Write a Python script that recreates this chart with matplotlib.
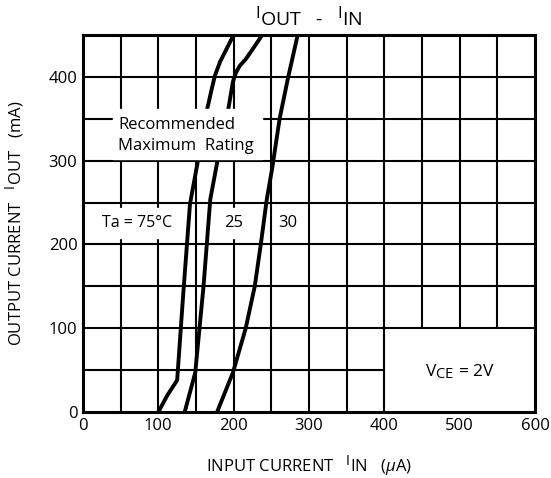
import numpy as np
import matplotlib
matplotlib.use('Agg')
import matplotlib.pyplot as plt
import matplotlib._mathtext as mt

#datasheet style: the leading I is only slightly smaller than the rest
mt.SHRINK_FACTOR = 0.85

plt.rcParams['font.family'] = ['Open Sans', 'DejaVu Sans']
plt.rcParams['mathtext.fontset'] = 'custom'
plt.rcParams['mathtext.rm'] = 'Open Sans'
plt.rcParams['mathtext.it'] = 'Open Sans:italic'

#curve data, input current (uA) vs output current (mA)
ta75_iin = [100, 112, 125, 133, 142, 153, 165, 171, 175, 182, 191, 200]
ta75_iout = [0, 20, 38, 140, 248, 302, 362, 386, 401, 418, 434, 450]
ta25_iin = [135, 149, 160, 169, 179, 193, 199, 203, 208, 216, 226, 238]
ta25_iout = [0, 47, 150, 254, 302, 362, 394, 405, 413, 421, 434, 450]
ta30_iin = [178, 199, 216, 228, 236, 244, 251, 261, 272, 285]
ta30_iout = [0, 47, 100, 150, 200, 254, 290, 350, 398, 450]

x_ticks = [0, 100, 200, 300, 400, 500, 600]
y_ticks = [0, 100, 200, 300, 400]

fig = plt.figure(figsize=(5.51, 4.78), dpi=100)
ax = fig.add_axes([0.1506, 0.138, 0.8204, 0.789])
ax.set_xlim(0, 600)
ax.set_ylim(0, 450)

#grid, leaving the lower right corner empty for the VCE note
for gx in range(50, 600, 50):
    ax.vlines(gx, 100 if gx > 400 else 0, 450, color='black', lw=1.5, zorder=1)
for gy in range(50, 450, 50):
    ax.hlines(gy, 0, 400 if gy < 100 else 600, color='black', lw=1.5, zorder=1)

for xs, ys in [(ta75_iin, ta75_iout), (ta25_iin, ta25_iout), (ta30_iin, ta30_iout)]:
    ax.plot(xs, ys, color='black', lw=2.8, zorder=2, solid_capstyle='butt')

#white patches behind the labels
ax.fill_between([40, 238], 302, 362, color='white', zorder=3)
ax.fill_between([15, 120], 208, 243, color='white', zorder=1.5)
ax.fill_between([180, 225], 208, 243, color='white', zorder=1.5)

ax.text(47, 343, 'Recommended', fontsize=12, va='center', ha='left', zorder=4)
ax.text(47, 318, 'Maximum  Rating', fontsize=12, va='center', ha='left', zorder=4)
ax.text(72, 225, 'Ta = 75°C', fontsize=11.5, va='center', ha='center', zorder=4)
ax.text(200, 225, '25', fontsize=12, va='center', ha='center', zorder=4)
ax.text(272, 225, '30', fontsize=12, va='center', ha='center', zorder=4)
ax.text(500, 48, r'V$_{\mathrm{CE}}$ = 2V', fontsize=12.5, va='center', ha='center', zorder=4)

ax.set_xticks(x_ticks)
ax.set_yticks(y_ticks)
ax.tick_params(length=0, labelsize=12, pad=4)
for s in ax.spines.values():
    s.set_linewidth(2.2)

ax.set_xlabel(r'INPUT CURRENT   ${}^{\mathrm{I}}$IN   ($\mu$A)', fontsize=12, labelpad=14)
ax.set_ylabel(r'OUTPUT CURRENT   ${}^{\mathrm{I}}$OUT   (mA)', fontsize=12, labelpad=16)
ax.set_title(r'${}^{\mathrm{I}}$OUT   -   ${}^{\mathrm{I}}$IN', fontsize=14, pad=7)

fig.savefig('out.png', dpi=100)
